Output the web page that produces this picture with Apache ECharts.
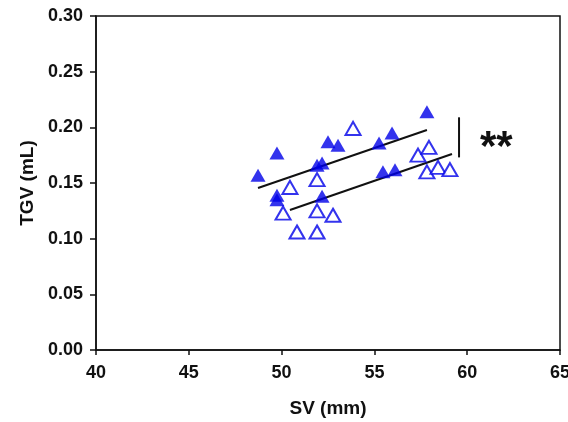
<!DOCTYPE html>
<html>
<head>
<meta charset="utf-8">
<script src="https://cdn.jsdelivr.net/npm/echarts@6/dist/echarts.min.js"></script>
<style>
html,body{margin:0;padding:0;background:#fff;}
#c{width:568px;height:422px;}
</style>
</head>
<body>
<div id="c"></div>
<script>
// SV (mm) and TGV (mL) values
var filledSV  = [48.73, 49.75, 49.75, 49.75, 51.91, 52.18, 52.18, 52.50, 53.04, 55.25, 55.95, 55.46, 56.11, 57.83];
var filledTGV = [0.157, 0.177, 0.139, 0.135, 0.166, 0.168, 0.138, 0.187, 0.184, 0.186, 0.195, 0.160, 0.162, 0.214];
var openSV    = [50.45, 50.08, 50.83, 51.91, 51.91, 51.91, 52.77, 53.85, 57.35, 57.94, 57.83, 58.43, 59.07];
var openTGV   = [0.146, 0.123, 0.106, 0.106, 0.153, 0.125, 0.121, 0.199, 0.175, 0.182, 0.160, 0.164, 0.162];
// regression line end points
var fitFilledSV  = [48.73, 57.83];
var fitFilledTGV = [0.1455, 0.1976];
var fitOpenSV    = [50.45, 59.18];
var fitOpenTGV   = [0.1258, 0.176];
// significance bar
var barSV  = [59.56, 59.56];
var barTGV = [0.209, 0.173];
var sigText = '**';
var xTicks = [40, 45, 50, 55, 60, 65];
var yTicks = [0.00, 0.05, 0.10, 0.15, 0.20, 0.25, 0.30];

function zip(a, b) { return a.map(function (v, i) { return [v, b[i]]; }); }

var blue = '#0000e8';
var chart = echarts.init(document.getElementById('c'));
var font = '"Liberation Sans", Arial, sans-serif';
chart.setOption({
  animation: false,
  grid: { left: 96, right: 8, top: 16, bottom: 72, show: true, borderColor: '#111', borderWidth: 1.5,
          containLabel: false, outerBoundsMode: 'none' },
  xAxis: {
    type: 'value', min: 40, max: 65, interval: 5,
    name: 'SV (mm)', nameLocation: 'middle', nameGap: 49,
    nameTextStyle: { fontFamily: font, fontWeight: 'bold', fontSize: 19, color: '#111' },
    axisLine: { lineStyle: { color: '#111', width: 1.5 } },
    axisTick: { length: 5, lineStyle: { color: '#111', width: 1.5 } },
    axisLabel: { fontFamily: font, fontWeight: 'bold', fontSize: 18, color: '#111', margin: 14,
      formatter: function (v) { return xTicks.indexOf(v) >= 0 ? String(v) : ''; } },
    splitLine: { show: false }
  },
  yAxis: {
    type: 'value', min: 0, max: 0.30, interval: 0.05,
    name: 'TGV (mL)', nameLocation: 'middle', nameGap: 58,
    nameTextStyle: { fontFamily: font, fontWeight: 'bold', fontSize: 19, color: '#111' },
    axisLine: { lineStyle: { color: '#111', width: 1.5 } },
    axisTick: { length: 6, lineStyle: { color: '#111', width: 1.5 } },
    axisLabel: { fontFamily: font, fontWeight: 'bold', fontSize: 18, color: '#111', margin: 13,
      formatter: function (v) { return v.toFixed(2); } },
    splitLine: { show: false }
  },
  series: [
    { type: 'line', data: zip(fitFilledSV, fitFilledTGV), symbol: 'none',
      lineStyle: { color: '#111', width: 2 }, z: 1 },
    { type: 'line', data: zip(fitOpenSV, fitOpenTGV), symbol: 'none',
      lineStyle: { color: '#111', width: 2 }, z: 1 },
    { type: 'scatter', data: zip(openSV, openTGV), symbol: 'triangle', symbolSize: [15, 13],
      itemStyle: { color: '#fff', borderColor: blue, borderWidth: 2 }, z: 3 },
    { type: 'scatter', data: zip(filledSV, filledTGV), symbol: 'triangle', symbolSize: [15, 13],
      itemStyle: { color: blue }, z: 4 },
    { type: 'line', data: zip(barSV, barTGV), symbol: 'none',
      lineStyle: { color: '#111', width: 2 }, z: 2 }
  ],
  graphic: [
    { type: 'text', left: 480, top: 127, style: { text: sigText, fontFamily: font, fontWeight: 'bold', fontSize: 42, fill: '#111' } }
  ]
});
</script>
</body>
</html>
